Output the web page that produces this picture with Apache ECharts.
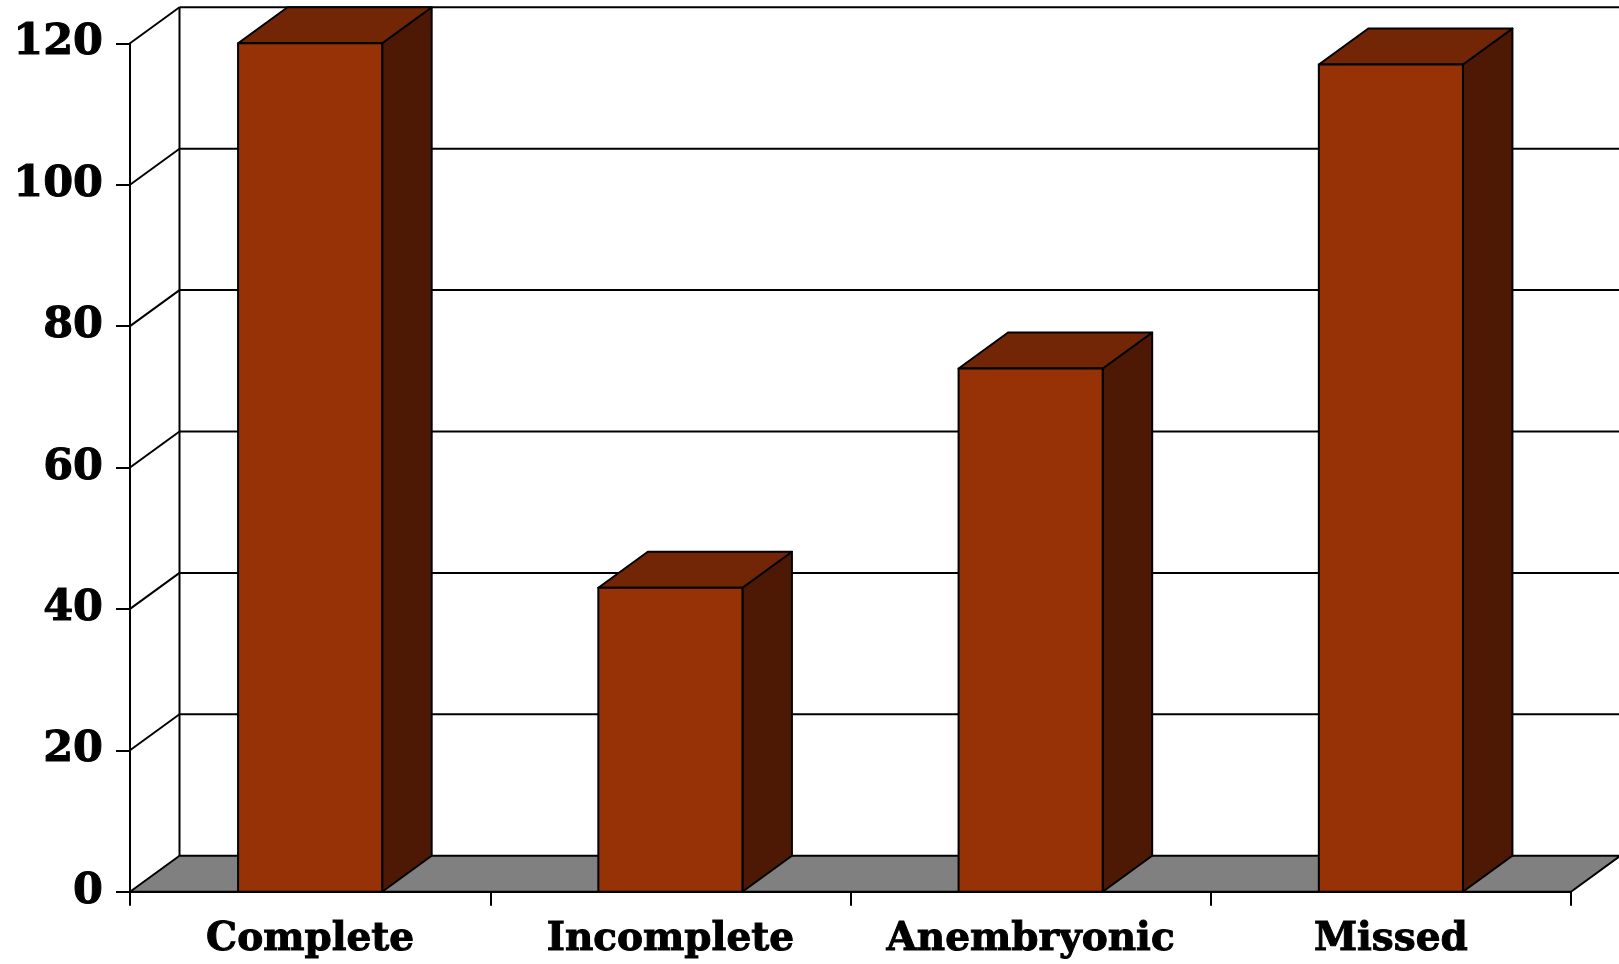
<!DOCTYPE html>
<html>
<head>
<meta charset="utf-8">
<title>Miscarriage types</title>
<script src="https://cdn.jsdelivr.net/npm/echarts@6/dist/echarts.min.js"></script>
<style>
  html, body { margin: 0; padding: 0; background: #fff; }
  #chart { width: 1619px; height: 964px; }
</style>
</head>
<body>
<div id="chart"></div>
<script>
// Chart data
const categories = ['Complete', 'Incomplete', 'Anembryonic', 'Missed'];
const counts = [120, 43, 74, 117];
const yTicks = [0, 20, 40, 60, 80, 100, 120];

// Depth of the 3D box (pixels, toward the back-right)
const DX = 49.5;
const DY = 36;
const FONT = '"DejaVu Serif", serif';

const chart = echarts.init(document.getElementById('chart'), null, { renderer: 'canvas' });

// Back wall grid lines, side diagonals and the grey floor
function renderWalls(params, api) {
  const v = api.value(0);
  const cs = params.coordSys;
  const gx = cs.x, gw = cs.width, gTop = cs.y, gBottom = cs.y + cs.height;
  const y = api.coord([0, v])[1];
  const children = [];
  const line = { stroke: '#000', lineWidth: 2 };
  if (v === 0) {
    children.push({
      type: 'polygon',
      shape: { points: [[gx, y], [gx + gw, y], [gx + gw + DX, y - DY], [gx + DX, y - DY]] },
      style: { fill: '#808080', stroke: '#000', lineWidth: 2, lineJoin: 'round' }
    });
    // back-left vertical edge of the wall
    children.push({
      type: 'line',
      shape: { x1: gx + DX, y1: gTop - DY, x2: gx + DX, y2: gBottom - DY },
      style: line
    });
  } else {
    children.push({
      type: 'line',
      shape: { x1: gx, y1: y, x2: gx + DX, y2: y - DY },
      style: line
    });
    children.push({
      type: 'line',
      shape: { x1: gx + DX, y1: y - DY, x2: gx + gw + DX + 10, y2: y - DY },
      style: line
    });
  }
  return { type: 'group', children: children };
}

// 3D column: front face, top face and right side face
function renderBar(params, api) {
  const idx = api.value(0);
  const val = api.value(1);
  const top = api.coord([idx, val]);
  const base = api.coord([idx, 0]);
  const band = api.size([1, 0])[0];
  const w = band * 0.4;
  const x0 = top[0] - w / 2, x1 = top[0] + w / 2;
  const yt = top[1], yb = base[1];
  const edge = { stroke: '#000', lineWidth: 2, lineJoin: 'round' };
  return {
    type: 'group',
    children: [
      {
        type: 'polygon',
        shape: { points: [[x1, yt], [x1 + DX, yt - DY], [x1 + DX, yb - DY], [x1, yb]] },
        style: Object.assign({ fill: '#4d1904' }, edge)
      },
      {
        type: 'polygon',
        shape: { points: [[x0, yt], [x0 + DX, yt - DY], [x1 + DX, yt - DY], [x1, yt]] },
        style: Object.assign({ fill: '#722606' }, edge)
      },
      {
        type: 'rect',
        shape: { x: x0, y: yt, width: w, height: yb - yt },
        style: Object.assign({ fill: '#963205' }, edge)
      }
    ]
  };
}

chart.setOption({
  animation: false,
  backgroundColor: '#ffffff',
  grid: { left: 130, right: 48, top: 43.3, bottom: 72.3, containLabel: false },
  xAxis: {
    type: 'category',
    data: categories,
    boundaryGap: true,
    axisLine: { show: true, lineStyle: { color: '#000', width: 2 } },
    axisTick: { show: true, interval: 0, length: 14, lineStyle: { color: '#000', width: 2 } },
    axisLabel: {
      interval: 0, margin: 29, color: '#000',
      fontFamily: FONT, fontWeight: 'bold', fontSize: 39,
      textBorderColor: '#000', textBorderWidth: 1
    },
    splitLine: { show: false }
  },
  yAxis: {
    type: 'value',
    min: 0, max: 120, interval: 20,
    axisLine: { show: true, lineStyle: { color: '#000', width: 2 } },
    axisTick: { show: true, length: 14, lineStyle: { color: '#000', width: 2 } },
    axisLabel: {
      margin: 27, color: '#000',
      fontFamily: FONT, fontWeight: 'bold', fontSize: 43,
      textBorderColor: '#000', textBorderWidth: 1
    },
    splitLine: { show: false }
  },
  series: [
    {
      type: 'custom',
      name: 'walls',
      renderItem: renderWalls,
      data: yTicks.map(v => [v]),
      encode: { y: 0 },
      z: 1,
      silent: true,
      clip: false
    },
    {
      type: 'custom',
      name: 'Count',
      renderItem: renderBar,
      data: counts.map((v, i) => [i, v]),
      encode: { x: 0, y: 1 },
      z: 3,
      clip: false
    }
  ]
});
</script>
</body>
</html>
